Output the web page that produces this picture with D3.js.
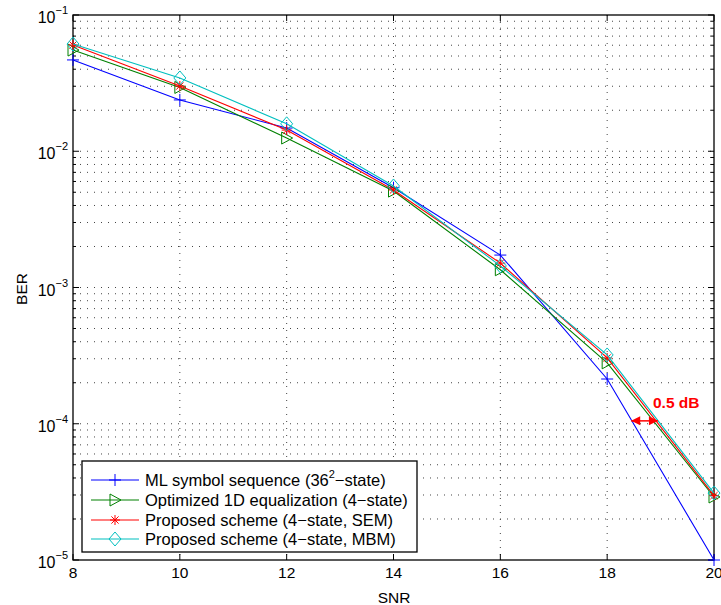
<!DOCTYPE html>
<html><head><meta charset="utf-8">
<script src="https://cdn.jsdelivr.net/npm/d3@7"></script>
<style>body{margin:0;background:#fff}svg{font-family:"Liberation Sans",Arial,sans-serif}</style>
</head><body><svg id="c" width="721" height="605"></svg>
<script>
const snr = [8, 10, 12, 14, 16, 18, 20];
const berML = [0.0468, 0.0238, 0.0148, 0.0054, 0.00173, 0.000213, 0.00001];
const berOpt = [0.0553, 0.0294, 0.0125, 0.0051, 0.00135, 0.00028, 0.000029];
const berSEM = [0.0602, 0.0301, 0.0143, 0.0052, 0.00151, 0.000304, 0.0000297];
const berMBM = [0.0612, 0.0345, 0.0159, 0.00556, 0.00144, 0.00032, 0.000031];
const seriesNames = ["ML symbol sequence (36", "Optimized 1D equalization (4\u2212state)", "Proposed scheme (4\u2212state, SEM)", "Proposed scheme (4\u2212state, MBM)"];
const xTicks = [8, 10, 12, 14, 16, 18, 20];
const yTickExp = [-1, -2, -3, -4, -5];
const annotation = "0.5 dB";
const arrowSNR = [18.45, 18.95];
const arrowBER = 0.000105;

const svg = d3.select("#c");
const L = 73, R = 714, T = 15, B = 560;
const x = d3.scaleLinear().domain([8, 20]).range([L, R]);
const y = d3.scaleLog().domain([1e-5, 1e-1]).range([B, T]);

// grid
const g = svg.append("g");
const yMinor = [];
for (let e = -5; e < -1; e++) for (let m = 1; m <= 9; m++) yMinor.push(m * Math.pow(10, e));
yMinor.push(0.1);
g.selectAll(".hg").data(yMinor.filter(v => v > 1e-5 && v < 0.1)).enter().append("line")
  .attr("x1", L).attr("x2", R).attr("y1", d => y(d)).attr("y2", d => y(d))
  .attr("stroke", "#444").attr("stroke-width", 1).attr("stroke-dasharray", "1,6");
g.selectAll(".vg").data(xTicks.slice(1, -1)).enter().append("line")
  .attr("y1", T).attr("y2", B).attr("x1", d => x(d)).attr("x2", d => x(d))
  .attr("stroke", "#444").attr("stroke-width", 1).attr("stroke-dasharray", "1,6");

// ticks inward
const tk = svg.append("g").attr("stroke", "#000").attr("stroke-width", 1);
xTicks.forEach(v => {
  tk.append("line").attr("x1", x(v)).attr("x2", x(v)).attr("y1", B).attr("y2", B - 6);
  tk.append("line").attr("x1", x(v)).attr("x2", x(v)).attr("y1", T).attr("y2", T + 6);
});
yMinor.forEach(v => {
  const major = Math.abs(Math.log10(v) - Math.round(Math.log10(v))) < 1e-9;
  const len = major ? 6 : 3;
  tk.append("line").attr("x1", L).attr("x2", L + len).attr("y1", y(v)).attr("y2", y(v));
  tk.append("line").attr("x1", R).attr("x2", R - len).attr("y1", y(v)).attr("y2", y(v));
});
svg.append("rect").attr("x", L).attr("y", T).attr("width", R - L).attr("height", B - T)
  .attr("fill", "none").attr("stroke", "#000").attr("stroke-width", 1.3);

// tick labels
svg.selectAll(".xl").data(xTicks).enter().append("text")
  .attr("x", d => x(d)).attr("y", B + 18).attr("text-anchor", "middle")
  .attr("font-size", 15.5).text(d => d);
yTickExp.forEach(e => {
  const t = svg.append("text").attr("x", L - 5).attr("y", y(Math.pow(10, e)) + 8)
    .attr("text-anchor", "end").attr("font-size", 16);
  t.append("tspan").text("10");
  t.append("tspan").attr("dy", -9).attr("font-size", 11).text("\u2212" + (-e));
});
svg.append("text").attr("x", 394).attr("y", 603).attr("text-anchor", "middle").attr("font-size", 15.5).text("SNR");
svg.append("text").attr("transform", "translate(27,289) rotate(-90)")
  .attr("text-anchor", "middle").attr("font-size", 15.5).text("BER");

// series
const series = [
  {v: berML, c: "#0000ff", m: "plus"},
  {v: berOpt, c: "#008000", m: "tri"},
  {v: berSEM, c: "#ff0000", m: "star"},
  {v: berMBM, c: "#00bfbf", m: "diam"}
];
function marker(sel, type, cx, cy, col) {
  const s = 6;
  if (type === "plus") {
    sel.append("path").attr("d", `M${cx - s},${cy}H${cx + s}M${cx},${cy - s}V${cy + s}`).attr("stroke", col).attr("fill", "none");
  } else if (type === "tri") {
    sel.append("path").attr("d", `M${cx - s + 1},${cy - s}L${cx + s},${cy}L${cx - s + 1},${cy + s}Z`).attr("stroke", col).attr("fill", "none");
  } else if (type === "star") {
    const r = 5, r2 = 3.6;
    sel.append("path").attr("d", `M${cx - r},${cy}H${cx + r}M${cx},${cy - r}V${cy + r}M${cx - r2},${cy - r2}L${cx + r2},${cy + r2}M${cx - r2},${cy + r2}L${cx + r2},${cy - r2}`).attr("stroke", col).attr("fill", "none");
  } else {
    sel.append("path").attr("d", `M${cx},${cy - s - 1}L${cx + s},${cy}L${cx},${cy + s + 1}L${cx - s},${cy}Z`).attr("stroke", col).attr("fill", "none");
  }
}
const line = d3.line().x((d, i) => x(snr[i])).y(d => y(d));
const sg = svg.append("g");
series.forEach(s => {
  sg.append("path").attr("d", line(s.v)).attr("fill", "none").attr("stroke", s.c).attr("stroke-width", 1.1);
  s.v.forEach((v, i) => marker(sg, s.m, x(snr[i]), y(v), s.c));
});

// annotation arrow
const ay = y(arrowBER), ax1 = x(arrowSNR[0]), ax2 = x(arrowSNR[1]);
const red = "#ff0000";
svg.append("line").attr("x1", ax1).attr("x2", ax2).attr("y1", ay).attr("y2", ay).attr("stroke", red).attr("stroke-width", 1.5);
svg.append("path").attr("d", `M${ax1},${ay}l9,-4.5v9Z M${ax2},${ay}l-9,-4.5v9Z`).attr("fill", red);
svg.append("text").attr("x", 653).attr("y", 408).attr("font-size", 15.5).attr("font-weight", "bold")
  .attr("fill", red).text(annotation);

// legend
const lg = svg.append("g");
lg.append("rect").attr("x", 82).attr("y", 461).attr("width", 335).attr("height", 91)
  .attr("fill", "#fff").attr("stroke", "#000").attr("stroke-width", 1.3);
const rowsY = [480, 500, 520, 539];
series.forEach((s, i) => {
  lg.append("line").attr("x1", 91).attr("x2", 139).attr("y1", rowsY[i]).attr("y2", rowsY[i]).attr("stroke", s.c).attr("stroke-width", 1.1);
  marker(lg, s.m, 115, rowsY[i], s.c);
  const t = lg.append("text").attr("x", 145).attr("y", rowsY[i] + 6).attr("font-size", 16.5);
  if (i === 0) {
    t.append("tspan").text(seriesNames[0]);
    t.append("tspan").attr("dy", -8).attr("font-size", 11).text("2");
    t.append("tspan").attr("dy", 8).text("\u2212state)");
  } else t.text(seriesNames[i]);
});
</script></body></html>
